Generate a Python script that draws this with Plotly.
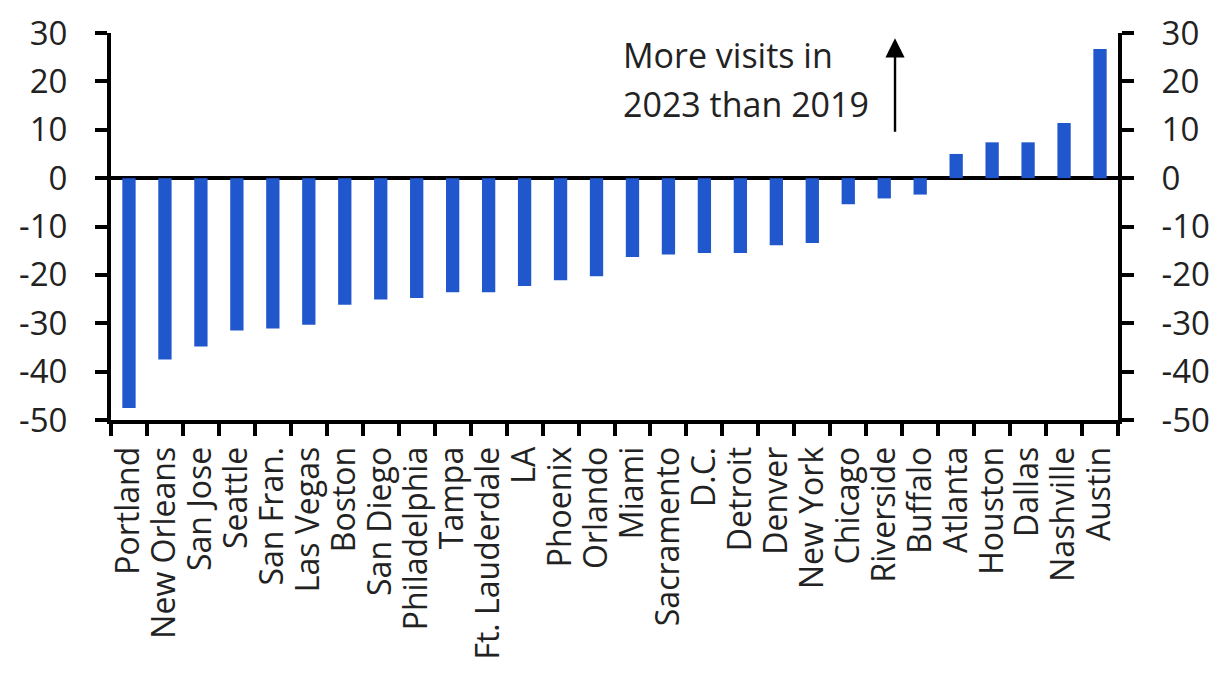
import plotly.graph_objects as go

cities = ["Portland", "New Orleans", "San Jose", "Seattle", "San Fran.", "Las Vegas",
          "Boston", "San Diego", "Philadelphia", "Tampa", "Ft. Lauderdale", "LA",
          "Phoenix", "Orlando", "Miami", "Sacramento", "D.C.", "Detroit", "Denver",
          "New York", "Chicago", "Riverside", "Buffalo", "Atlanta", "Houston",
          "Dallas", "Nashville", "Austin"]
change_pct = [-47.5, -37.5, -34.8, -31.5, -31.1, -30.3,
              -26.2, -25.1, -24.8, -23.6, -23.6, -22.3,
              -21.1, -20.3, -16.3, -15.8, -15.5, -15.5, -13.9,
              -13.4, -5.4, -4.2, -3.4, 5.0, 7.4,
              7.4, 11.4, 26.7]
y_range = [-50, 30]
y_ticks = [30, 20, 10, 0, -10, -20, -30, -40, -50]
y_ticktext = [str(v) for v in y_ticks]  # plain hyphen like the original

FONT = "Open Sans"
BLUE = "#2157cc"

fig = go.Figure()
fig.add_trace(go.Bar(x=cities, y=change_pct, marker=dict(color=BLUE, line=dict(width=0)),
                     showlegend=False))
# invisible copy so the right-hand axis gets drawn
fig.add_trace(go.Scatter(x=cities, y=change_pct, yaxis="y2", mode="markers",
                         marker=dict(opacity=0), showlegend=False, hoverinfo="skip"))

axis_common = dict(range=y_range, tickvals=y_ticks, ticktext=y_ticktext, showgrid=False,
                   showline=True, linecolor="black", linewidth=4,
                   ticks="outside", ticklen=12, tickwidth=4, tickcolor="black",
                   tickfont=dict(family=FONT, size=33, color="#222"),
                   ticklabelstandoff=21, automargin=False)

# page body adds an 8px offset, margins compensate for it
fig.update_layout(
    width=1219, height=690,
    margin=dict(l=103, r=109, t=25, b=278),
    paper_bgcolor="white", plot_bgcolor="white",
    bargap=0.63,
    xaxis=dict(range=[-0.5, len(cities) - 0.5], tickmode="array", tickvals=cities,
               showgrid=False, showline=True, linecolor="black", linewidth=4,
               ticks="outside", ticklen=12, tickwidth=4, tickcolor="black",
               tickson="boundaries", tickangle=-90, automargin=False,
               ticklabelstandoff=10,
               tickfont=dict(family=FONT, size=32, color="#222")),
    yaxis=dict(**axis_common, side="left", zeroline=True, zerolinecolor="black",
               zerolinewidth=4, layer="above traces"),
    yaxis2=dict(**axis_common, side="right", overlaying="y", zeroline=False),
    annotations=[
        dict(xref="paper", yref="y", x=0.506, y=25.4, xanchor="left", yanchor="middle",
             text="More visits in", showarrow=False,
             font=dict(family=FONT, size=34, color="#222")),
        dict(xref="paper", yref="y", x=0.506, y=15.4, xanchor="left", yanchor="middle",
             text="2023 than 2019", showarrow=False,
             font=dict(family=FONT, size=34, color="#222")),
        dict(xref="x", yref="y", x=21.3, y=28.9, axref="x", ayref="y", ax=21.3, ay=9.3,
             text="", showarrow=True, arrowhead=2, arrowsize=1.6, arrowwidth=2.4,
             arrowcolor="black"),
    ],
)

fig.write_html("out.html")
